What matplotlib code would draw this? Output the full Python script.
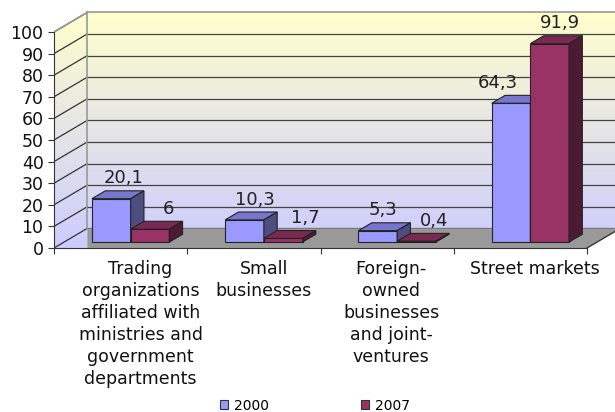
import numpy as np
import matplotlib
matplotlib.use("Agg")
from matplotlib import pyplot as plt
from matplotlib.patches import Polygon, Patch

### Data ###
categories = ["Trading\norganizations\naffiliated with\nministries and\ngovernment\ndepartments",
              "Small\nbusinesses",
              "Foreign-\nowned\nbusinesses\nand joint-\nventures",
              "Street markets"]
years = ["2000", "2007"]
values_2000 = [20.1, 10.3, 5.3, 64.3]
values_2007 = [6, 1.7, 0.4, 91.9]
value_labels_2000 = ["20,1", "10,3", "5,3", "64,3"]
value_labels_2007 = ["6", "1,7", "0,4", "91,9"]

# colours: front, top, side
colors = {"2000": ("#9999ff", "#7676cc", "#4d4d80"),
          "2007": ("#993366", "#7a2952", "#4d1a33")}

# depth of the 3d box in data units
dxd = 0.25
dyd = 9.1
f0, f1 = 0.3, 0.7
w = 0.29

fig = plt.figure(figsize=(6.15, 4.12), dpi=100)
W, H = 615.0, 412.0
x0px, y0px = 54.0, 248.0
px_x = 133.25   # px per category
px_y = 2.16     # px per unit
xmax = (W - x0px) / px_x
ymax = (y0px - 8) / px_y
ax = fig.add_axes([x0px / W, (H - y0px) / H, (W - x0px) / W, (y0px - 8) / H])
ax.set_xlim(0, xmax)
ax.set_ylim(0, ymax)

# walls with gradient
wall = Polygon([(0, 0), (dxd, 0), (dxd, dyd), (4 + dxd, dyd), (4 + dxd, 100 + dyd),
                (dxd, 100 + dyd), (0, 100)], closed=True, facecolor="none", edgecolor="none")
ax.add_patch(wall)
grad = np.linspace(0, 1, 256).reshape(-1, 1)
top_c = np.array([255, 255, 204]) / 255.0
bot_c = np.array([204, 204, 255]) / 255.0
img = (bot_c[None, None, :] * (1 - grad[:, :, None]) + top_c[None, None, :] * grad[:, :, None])
im = ax.imshow(img, extent=[0, 4 + dxd, 0, 100 + dyd], origin="lower", aspect="auto", zorder=0)
im.set_clip_path(wall)

# gridlines
for v in range(0, 101, 10):
    ax.plot([0, dxd], [v, v + dyd], color="#333333", lw=0.9, zorder=1)
    if v < 100:
        ax.plot([dxd, 4 + dxd], [v + dyd, v + dyd], color="#444444", lw=0.9, zorder=1)
# wall borders
ax.plot([dxd, 4 + dxd], [100 + dyd, 100 + dyd], color="#999999", lw=1.2, zorder=1)
ax.plot([dxd, dxd], [dyd, 100 + dyd], color="#999999", lw=1.2, zorder=1)
ax.plot([0, dxd], [100, 100 + dyd], color="#999999", lw=1.2, zorder=1)

# floor
floor = Polygon([(dxd, 0), (4, 0), (4 + dxd, dyd), (dxd, dyd)], closed=True,
                facecolor="#999999", edgecolor="none", zorder=2)
ax.add_patch(floor)
ax.plot([4, 4 + dxd], [0, dyd], color="#333333", lw=1, zorder=2)

# bars
ddx = (f1 - f0) * dxd
ddy = (f1 - f0) * dyd
label_nudge = [[12, 18], [10, 22], [5, 18], [-13, 10]]
for i in range(len(categories)):
    c = i + 0.5 + f0 * dxd
    yb = f0 * dyd
    for j, (yr, vals, labs) in enumerate([(years[0], values_2000, value_labels_2000),
                                          (years[1], values_2007, value_labels_2007)]):
        v = vals[i]
        xa = c - w + j * w
        xb = xa + w
        yt = yb + v
        front, topc, side = colors[yr]
        ax.bar(xa, v, width=w, bottom=yb, align="edge", color=front,
               edgecolor="#222222", linewidth=0.8, zorder=3 + j)
        ax.add_patch(Polygon([(xa, yt), (xb, yt), (xb + ddx, yt + ddy), (xa + ddx, yt + ddy)],
                             closed=True, facecolor=topc, edgecolor="#222222", lw=0.8, zorder=3 + j))
        ax.add_patch(Polygon([(xb, yb), (xb + ddx, yb + ddy), (xb + ddx, yt + ddy), (xb, yt)],
                             closed=True, facecolor=side, edgecolor="#222222", lw=0.8, zorder=3 + j))
        ax.annotate(labs[i], xy=((xa + xb) / 2, yt + ddy), xytext=(label_nudge[i][j] * 0.72, 2.5),
                    textcoords="offset points", ha="center", va="bottom", fontsize=13,
                    color="#222222", zorder=10)

# axes
for s in ["top", "right"]:
    ax.spines[s].set_visible(False)
ax.spines["left"].set_bounds(0, 100)
ax.spines["bottom"].set_bounds(0, 4)
ax.spines["left"].set_color("#333333")
ax.spines["bottom"].set_color("#333333")
ax.set_yticks(range(0, 101, 10))
ax.set_xticks(range(0, 5))
ax.set_xticklabels([])
ax.tick_params(axis="y", direction="out", length=4.5, labelsize=12.5, colors="#333333",
               labelcolor="#111111", pad=3)
ax.tick_params(axis="x", direction="out", length=4, colors="#333333")

# category labels, shifted a little like the original layout (px)
cat_shift = [20, 10, 4, 15]
for i, cat in enumerate(categories):
    ax.annotate(cat, xy=(i + 0.5, 0), xytext=(cat_shift[i] * 0.72, -9),
                textcoords="offset points", ha="center", va="top", fontsize=12.5,
                linespacing=1.28, color="#111111", annotation_clip=False)

handles = [Patch(facecolor=colors[y][0], edgecolor="#333333", linewidth=0.8) for y in years]
fig.legend(handles, years, loc="center", bbox_to_anchor=(0.512, 6.5 / 412), ncol=2,
           frameon=False, fontsize=10, handlelength=0.6, handleheight=0.6, handletextpad=0.4,
           columnspacing=6.6, borderpad=0)

plt.savefig("out.png", dpi=100)
